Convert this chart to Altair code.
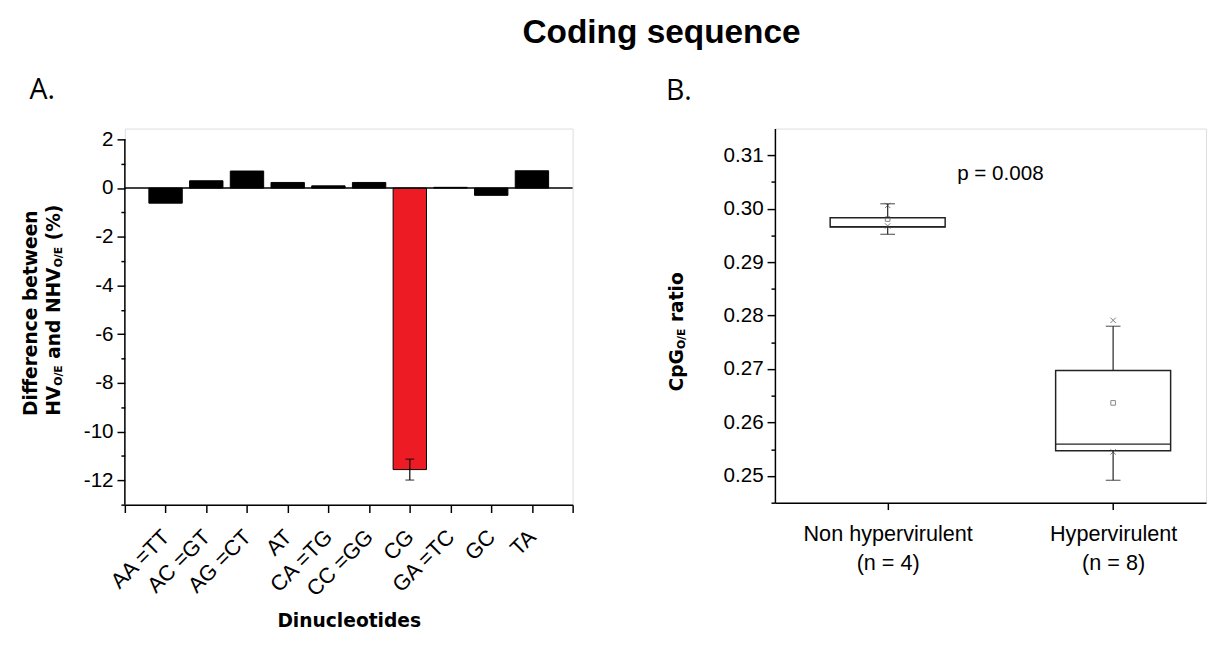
import altair as alt
import pandas as pd

# ---------------- data ----------------
dinucleotides = ["AA =TT", "AC =GT", "AG =CT", "AT", "CA =TG",
                 "CC =GG", "CG", "GA =TC", "GC", "TA"]
diff_values = [-0.62, 0.30, 0.70, 0.23, 0.09, 0.23, -11.56, 0.03, -0.30, 0.71]
highlight = "CG"
cg_error = [-11.99, -11.13]

groups = ["Non hypervirulent", "Hypervirulent"]
group_n = ["(n = 4)", "(n = 8)"]
box_q1 = [0.29658, 0.25471]
box_q3 = [0.29832, 0.26975]
box_median = [0.29665, 0.25596]
box_mean = [0.29807, 0.26367]
whisker_low = [0.29521, 0.24919]
whisker_high = [0.30093, 0.27801]
extreme_low = [0.29677, 0.25450]
extreme_high = [0.30062, 0.27912]
p_label = "p = 0.008"

# ---------------- helpers ----------------
DJ = {"H": .837, "V": .774, "O": .850, "/": .365, "E": .683, " ": .348,
      "a": .675, "n": .712, "d": .716, "N": .837, "(": .457, "%": 1.002,
      ")": .457, "C": .734, "p": .716, "G": .821, "r": .493, "t": .478,
      "i": .343, "o": .687}


def text_width(s, size):
    return sum(DJ.get(c, 0.6) for c in s) * size


def rotated_title(segments, base_x, center_y):
    total = sum(text_width(t, fs) for t, fs, _ in segments)
    y = center_y + total / 2
    layers = []
    for t, fs, sub in segments:
        w = text_width(t, fs)
        s = t.strip()
        lead = text_width(t[:len(t) - len(t.lstrip())], fs)
        layers.append(
            alt.Chart(pd.DataFrame({"t": [s]})).mark_text(
                angle=270, align="left", baseline="alphabetic",
                font="DejaVu Sans", fontWeight="bold", fontSize=fs, color="black"
            ).encode(text="t:N", x=alt.value(base_x + (2 if sub else 0)),
                     y=alt.value(y - lead))
        )
        y -= w
    return layers


BIG, SMALL = 19, 11
LAB = "Liberation Sans"

# ---------------- panel A ----------------
W1, H1 = 456, 383
Y1_TOP = 2 + 11 / 24.8
bar_df = pd.DataFrame({"cat": dinucleotides, "value": diff_values,
                       "pos": list(range(1, len(dinucleotides) + 1))})
bar_df["x0"] = bar_df["pos"] - 0.41
bar_df["x1"] = bar_df["pos"] + 0.41
bar_df["col"] = ["#ED1C24" if c == highlight else "#000000" for c in dinucleotides]

n1 = len(dinucleotides)
xs1 = alt.Scale(domain=[0, n1 + 1], nice=False, zero=False)
ys1 = alt.Scale(domain=[-13, Y1_TOP], nice=False, zero=False)
label_js = "[" + ",".join("'%s'" % c for c in dinucleotides) + "]"

x_axis1 = alt.Axis(
    values=list(range(0, n1 + 2)),
    labelExpr="datum.value >= 1 && datum.value <= %d ? %s[datum.value - 1] : ''" % (n1, label_js),
    labelAngle=-45, labelAlign="right", labelBaseline="middle",
    labelFont=LAB, labelFontSize=22, labelColor="black",
    labelPadding=21, labelOverlap=False, labelFlush=False, labelBound=False,
    tickSize=8, tickWidth=1.5, tickColor="black",
    domainColor="black", domainWidth=1.5, grid=False,
    title="Dinucleotides", titleFont="DejaVu Sans", titleFontSize=BIG,
    titleFontWeight="bold", titleColor="black", titlePadding=12,
)
y_major1 = alt.Axis(
    orient="left", values=list(range(-12, 3, 2)),
    labelExpr="'' + datum.value",
    labelFont=LAB, labelFontSize=21, labelColor="black",
    labelPadding=4, labelOverlap=False, labelFlush=False,
    tickSize=8, tickWidth=1.5, tickColor="black",
    domain=False, grid=False, title=None,
)
y_minor1 = alt.Axis(
    orient="left", values=list(range(-13, 2, 2)), labels=False,
    tickSize=4, tickWidth=1.5, tickColor="black",
    domain=False, grid=False, title=None,
)

bars = alt.Chart(bar_df).mark_bar(stroke="black", strokeWidth=1).encode(
    x=alt.X("x0:Q", scale=xs1, axis=x_axis1),
    x2="x1:Q",
    y=alt.Y("value:Q", scale=ys1, axis=y_major1),
    y2=alt.datum(0),
    color=alt.Color("col:N", scale=None),
)
zero_line = alt.Chart(pd.DataFrame({"a": [0], "b": [n1 + 1], "z": [0]})).mark_rule(
    color="black", strokeWidth=1.5
).encode(x=alt.X("a:Q", scale=xs1, axis=None), x2="b:Q",
         y=alt.Y("z:Q", scale=ys1, axis=y_minor1))
# y axis line, spanning the labelled range only
axis_line = alt.Chart(pd.DataFrame({"a": [0], "lo": [-13], "hi": [2]})).mark_rule(
    color="black", strokeWidth=1.5
).encode(x=alt.X("a:Q", scale=xs1, axis=None),
         y=alt.Y("lo:Q", scale=ys1, axis=None), y2="hi:Q")

err_pos = dinucleotides.index(highlight) + 1
err_df = pd.DataFrame({"pos": [err_pos], "lo": [cg_error[0]], "hi": [cg_error[1]]})
err_rule = alt.Chart(err_df).mark_rule(color="black", strokeWidth=1.2).encode(
    x=alt.X("pos:Q", scale=xs1, axis=None),
    y=alt.Y("lo:Q", scale=ys1, axis=None), y2="hi:Q")
cap_df = pd.DataFrame({"pos": [err_pos, err_pos], "v": cg_error})
err_caps = alt.Chart(cap_df).mark_tick(orient="horizontal", size=9, thickness=1.2, color="black").encode(
    x=alt.X("pos:Q", scale=xs1, axis=None), y=alt.Y("v:Q", scale=ys1, axis=None))

a_title = alt.Chart(pd.DataFrame({"t": ["Difference between"]})).mark_text(
    angle=270, align="center", baseline="alphabetic", font="DejaVu Sans",
    fontWeight="bold", fontSize=BIG, color="black"
).encode(text="t:N", x=alt.value(-89), y=alt.value(188))
a_title2 = rotated_title([("HV", BIG, False), ("O/E", SMALL, True), (" and NHV", BIG, False),
                          ("O/E", SMALL, True), (" (%)", BIG, False)], -66, 185)
a_label = alt.Chart(pd.DataFrame({"t": ["A."]})).mark_text(
    align="left", baseline="alphabetic", font="Open Sans", fontSize=29, color="black"
).encode(text="t:N", x=alt.value(-97), y=alt.value(-30))

panel_a = alt.layer(bars, zero_line, axis_line, err_rule, err_caps, a_title, *a_title2, a_label
                    ).resolve_axis(x="independent", y="independent").properties(width=W1, height=H1)

# ---------------- panel B ----------------
W2, H2 = 439, 381
box_df = pd.DataFrame({
    "g": groups, "n": group_n, "pos": [0, 1],
    "q1": box_q1, "q3": box_q3, "med": box_median, "mean": box_mean,
    "wlo": whisker_low, "whi": whisker_high, "xlo": extreme_low, "xhi": extreme_high,
})
box_df["l"] = box_df["pos"] - 0.255
box_df["r"] = box_df["pos"] + 0.255

xs2 = alt.Scale(domain=[-0.5, 1.412], nice=False, zero=False)
ys2 = alt.Scale(domain=[0.245, 0.315], nice=False, zero=False)

x_axis2 = alt.Axis(
    values=[0, 1],
    labelExpr="datum.value == 0 ? ['%s', '%s'] : ['%s', '%s']" % (groups[0], group_n[0], groups[1], group_n[1]),
    labelFont=LAB, labelFontSize=22, labelColor="black",
    labelLineHeight=30, labelPadding=14, labelOverlap=False, labelFlush=False,
    tickSize=7, tickWidth=1.5, tickColor="black",
    domainColor="black", domainWidth=1.5, grid=False, title=None,
)
y_major2 = alt.Axis(
    orient="left", values=[0.25, 0.26, 0.27, 0.28, 0.29, 0.30, 0.31],
    format=".2f",
    labelFont=LAB, labelFontSize=21, labelColor="black",
    labelPadding=4, labelOverlap=False, labelFlush=False,
    tickSize=8, tickWidth=1.5, tickColor="black",
    domainColor="black", domainWidth=1.5, grid=False, title=None,
)
y_minor2 = alt.Axis(
    orient="left", values=[0.245, 0.255, 0.265, 0.275, 0.285, 0.295, 0.305], labels=False,
    tickSize=4, tickWidth=1.5, tickColor="black",
    domain=False, grid=False, title=None,
)

base2 = alt.Chart(box_df)
whisk_up = base2.mark_rule(color="#333333", strokeWidth=1.3).encode(
    x=alt.X("pos:Q", scale=xs2, axis=x_axis2),
    y=alt.Y("q3:Q", scale=ys2, axis=y_major2), y2="whi:Q")
whisk_dn = base2.mark_rule(color="#333333", strokeWidth=1.3).encode(
    x=alt.X("pos:Q", scale=xs2, axis=None),
    y=alt.Y("wlo:Q", scale=ys2, axis=y_minor2), y2="q1:Q")
cap_hi = base2.mark_tick(orient="horizontal", size=15, thickness=1.3, color="#333333").encode(
    x=alt.X("pos:Q", scale=xs2, axis=None), y=alt.Y("whi:Q", scale=ys2, axis=None))
cap_lo = base2.mark_tick(orient="horizontal", size=15, thickness=1.3, color="#333333").encode(
    x=alt.X("pos:Q", scale=xs2, axis=None), y=alt.Y("wlo:Q", scale=ys2, axis=None))
box = base2.mark_rect(fill="white", stroke="#222222", strokeWidth=1.5).encode(
    x=alt.X("l:Q", scale=xs2, axis=None), x2="r:Q",
    y=alt.Y("q1:Q", scale=ys2, axis=None), y2="q3:Q")
med = base2.mark_rule(color="#222222", strokeWidth=1.5).encode(
    x=alt.X("l:Q", scale=xs2, axis=None), x2="r:Q", y=alt.Y("med:Q", scale=ys2, axis=None))
mean_pt = base2.mark_point(shape="square", size=22, filled=False, color="#555555", strokeWidth=1).encode(
    x=alt.X("pos:Q", scale=xs2, axis=None), y=alt.Y("mean:Q", scale=ys2, axis=None))
xshape = "M-1,-1L1,1M-1,1L1,-1"
ext_hi = base2.mark_point(shape=xshape, size=30, filled=False, color="#444444", strokeWidth=1).encode(
    x=alt.X("pos:Q", scale=xs2, axis=None), y=alt.Y("xhi:Q", scale=ys2, axis=None))
ext_lo = base2.mark_point(shape=xshape, size=30, filled=False, color="#444444", strokeWidth=1).encode(
    x=alt.X("pos:Q", scale=xs2, axis=None), y=alt.Y("xlo:Q", scale=ys2, axis=None))

p_df = pd.DataFrame({"t": [p_label], "x": [0.5], "y": [0.3065]})
p_text = alt.Chart(p_df).mark_text(
    font=LAB, fontSize=21, color="black", align="center", baseline="middle"
).encode(text="t:N", x=alt.X("x:Q", scale=xs2, axis=None), y=alt.Y("y:Q", scale=ys2, axis=None))

b_title = rotated_title([("CpG", BIG, False), ("O/E", SMALL, True), (" ratio", BIG, False)], -94, 207)
b_label = alt.Chart(pd.DataFrame({"t": ["B."]})).mark_text(
    align="left", baseline="alphabetic", font="Open Sans", fontSize=29, color="black"
).encode(text="t:N", x=alt.value(-111), y=alt.value(-29))

panel_b = alt.layer(whisk_up, whisk_dn, cap_hi, cap_lo, box, med, mean_pt, ext_hi, ext_lo,
                    p_text, *b_title, b_label
                    ).resolve_axis(x="independent", y="independent").properties(width=W2, height=H2)

chart = alt.hconcat(panel_a, panel_b, spacing=85).properties(
    title=alt.TitleParams("Coding sequence", font=LAB, fontSize=34,
                          fontWeight="bold", color="black", anchor="middle", dx=48, offset=27),
    padding={"left": 14, "top": 2, "right": 0, "bottom": 0},
).configure_view(strokeWidth=0).configure(background="white")

chart.save("out.html", embed_options={"renderer": "svg", "actions": False})
